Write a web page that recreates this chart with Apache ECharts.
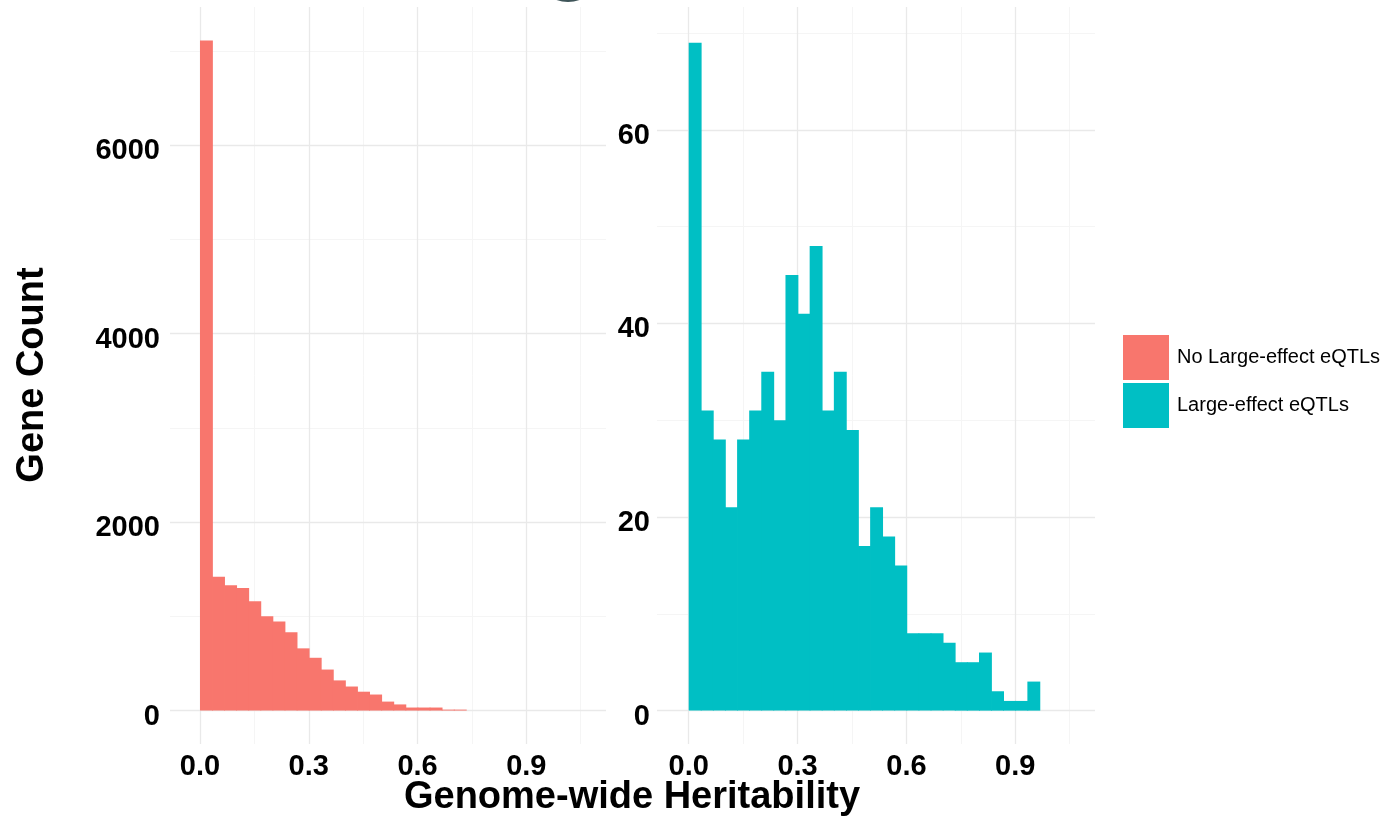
<!DOCTYPE html>
<html>
<head>
<meta charset="utf-8">
<script src="https://cdn.jsdelivr.net/npm/echarts@6/dist/echarts.min.js"></script>
<style>
  html, body { margin: 0; padding: 0; background: #fff; }
  #chart { width: 1387px; height: 823px; }
</style>
</head>
<body>
<div id="chart"></div>
<script>
// histogram bins (width 1/30, starting at 0)
const binWidth = 1 / 30;
const noLargeCounts = [7110, 1420, 1330, 1300, 1160, 1000, 945, 830, 660, 560, 435, 320, 255, 200, 170, 95, 65, 32, 32, 32, 10, 10];
const largeCounts = [69, 31, 28, 21, 28, 31, 35, 30, 45, 41, 48, 31, 35, 29, 17, 21, 18, 15, 8, 8, 8, 7, 5, 5, 6, 2, 1, 1, 3];

const xTicks = [0, 0.3, 0.6, 0.9];
const xMinor = [0.15, 0.45, 0.75, 1.05];
const leftYTicks = [0, 2000, 4000, 6000];
const leftYMinor = [1000, 3000, 5000, 7000];
const rightYTicks = [0, 20, 40, 60];
const rightYMinor = [10, 30, 50, 70];

const seriesNames = ['No Large-effect eQTLs', 'Large-effect eQTLs'];
const colors = ['#F8766D', '#00BFC4'];

const chart = echarts.init(document.getElementById('chart'));

function toBins(counts) {
  return counts.map((c, i) => [i * binWidth, (i + 1) * binWidth, c]);
}

function renderBar(params, api) {
  const p0 = api.coord([api.value(0), api.value(2)]);
  const p1 = api.coord([api.value(1), 0]);
  return {
    type: 'rect',
    shape: { x: p0[0], y: p0[1], width: p1[0] - p0[0] + 0.8, height: p1[1] - p0[1] },
    style: { fill: api.visual('color') }
  };
}

function gridLines(xi, yMajor, yMinor) {
  const major = { color: '#E9E9E9', width: 1.3, type: 'solid' };
  const minor = { color: '#F5F5F5', width: 1, type: 'solid' };
  const data = [];
  xMinor.forEach(v => data.push({ xAxis: v, lineStyle: minor }));
  yMinor.forEach(v => data.push({ yAxis: v, lineStyle: minor }));
  xTicks.forEach(v => data.push({ xAxis: v, lineStyle: major }));
  yMajor.forEach(v => data.push({ yAxis: v, lineStyle: major }));
  return {
    type: 'line',
    data: [],
    xAxisIndex: xi,
    yAxisIndex: xi,
    silent: true,
    z: 1,
    markLine: {
      silent: true,
      symbol: ['none', 'none'],
      label: { show: false },
      animation: false,
      z: 1,
      data: data
    }
  };
}

const fontFamily = 'Liberation Sans, Arial, sans-serif';
const tickFont = { color: '#000', fontSize: 29, fontWeight: 'bold', fontFamily: fontFamily };

function xAxisCfg(idx, min, max) {
  return {
    type: 'value', gridIndex: idx, min: min, max: max,
    axisLine: { show: false }, axisTick: { show: false }, splitLine: { show: false },
    axisLabel: Object.assign({ customValues: xTicks, margin: 8, formatter: v => v.toFixed(1) }, tickFont)
  };
}

function yAxisCfg(idx, min, max, ticks, margin) {
  return {
    type: 'value', gridIndex: idx, min: min, max: max,
    axisLine: { show: false }, axisTick: { show: false }, splitLine: { show: false },
    axisLabel: Object.assign({
      customValues: ticks, margin: margin,
      verticalAlign: 'top', lineHeight: 12,
      formatter: v => String(v)
    }, tickFont)
  };
}

const option = {
  animation: false,
  backgroundColor: '#fff',
  grid: [
    { left: 170, top: 7, width: 436, height: 737 },
    { left: 657, top: 7, width: 438, height: 737 }
  ],
  xAxis: [
    xAxisCfg(0, -0.0827, 1.1197),
    xAxisCfg(1, -0.0874, 1.1197)
  ],
  yAxis: [
    yAxisCfg(0, -355, 7466, leftYTicks, 10),
    yAxisCfg(1, -3.45, 72.7, rightYTicks, 7)
  ],
  legend: {
    orient: 'vertical',
    left: 1123,
    top: 335,
    padding: 0,
    itemWidth: 46,
    itemHeight: 45,
    itemGap: 3,
    icon: 'rect',
    data: seriesNames,
    selectedMode: false,
    textStyle: { color: '#000', fontSize: 20, fontFamily: fontFamily, padding: [0, 0, 0, 3] }
  },
  graphic: [
    {
      type: 'text', x: 632, y: 798,
      style: {
        text: 'Genome-wide Heritability', x: 0, y: 0, align: 'center', verticalAlign: 'middle',
        fill: '#000', fontSize: 38, fontWeight: 'bold', fontFamily: fontFamily
      }
    },
    {
      type: 'text', x: 33, y: 375, rotation: Math.PI / 2,
      style: {
        text: 'Gene Count', x: 0, y: 0, align: 'center', verticalAlign: 'middle',
        fill: '#000', fontSize: 38, fontWeight: 'bold', fontFamily: fontFamily
      }
    },
    {
      type: 'circle', shape: { cx: 568, cy: -32, r: 34 },
      style: { fill: '#3F5559' }
    }
  ],
  series: [
    gridLines(0, leftYTicks, leftYMinor),
    gridLines(1, rightYTicks, rightYMinor),
    {
      name: seriesNames[0],
      type: 'custom',
      xAxisIndex: 0, yAxisIndex: 0,
      z: 3,
      itemStyle: { color: colors[0] },
      renderItem: renderBar,
      encode: { x: [0, 1], y: 2 },
      data: toBins(noLargeCounts)
    },
    {
      name: seriesNames[1],
      type: 'custom',
      xAxisIndex: 1, yAxisIndex: 1,
      z: 3,
      itemStyle: { color: colors[1] },
      renderItem: renderBar,
      encode: { x: [0, 1], y: 2 },
      data: toBins(largeCounts)
    }
  ]
};

chart.setOption(option);
window.addEventListener('resize', () => chart.resize());
</script>
</body>
</html>
